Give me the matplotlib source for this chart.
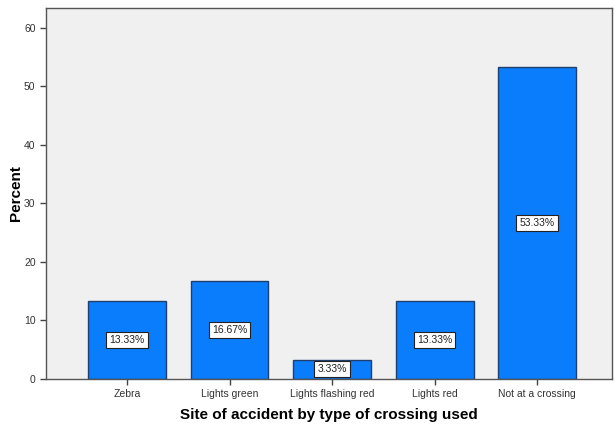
import matplotlib.pyplot as plt

categories = ["Zebra", "Lights green", "Lights flashing red", "Lights red", "Not at a crossing"]
percents = [13.33, 16.67, 3.33, 13.33, 53.33]
yticks = [0, 10, 20, 30, 40, 50, 60]

plt.rcParams['font.family'] = ['Liberation Sans', 'DejaVu Sans']

fig = plt.figure(figsize=(6.14, 4.25), dpi=100)
ax = fig.add_axes([0.0749, 0.1082, 0.9218, 0.873])
ax.set_facecolor('#f0f0f0')

x = range(len(categories))
bars = ax.bar(x, percents, width=0.76, color='#0a7dfc', edgecolor='#1f3f6e', linewidth=1.0, zorder=2)

for xi, v in zip(x, percents):
    ax.text(xi, v / 2, f"{v:.2f}%", ha='center', va='center', fontsize=7.5, color='#222222', zorder=3,
            bbox=dict(boxstyle='square,pad=0.3', facecolor='white', edgecolor='#222222', linewidth=0.8))

ax.set_xlim(-0.79, 4.73)
ax.set_ylim(0, 63.4)
ax.set_xticks(list(x))
ax.set_xticklabels(categories, fontsize=7.5, color='#333333')
ax.set_yticks(yticks)
ax.set_yticklabels([str(t) for t in yticks], fontsize=7.5, color='#333333')
ax.tick_params(axis='both', length=4, width=1, color='#444444')

for s in ax.spines.values():
    s.set_color('#555555')
    s.set_linewidth(1.0)

ax.set_xlabel('Site of accident by type of crossing used', fontsize=11, fontweight='bold', labelpad=6)
ax.set_ylabel('Percent', fontsize=11, fontweight='bold', labelpad=1)

fig.savefig('out.png', dpi=100)
